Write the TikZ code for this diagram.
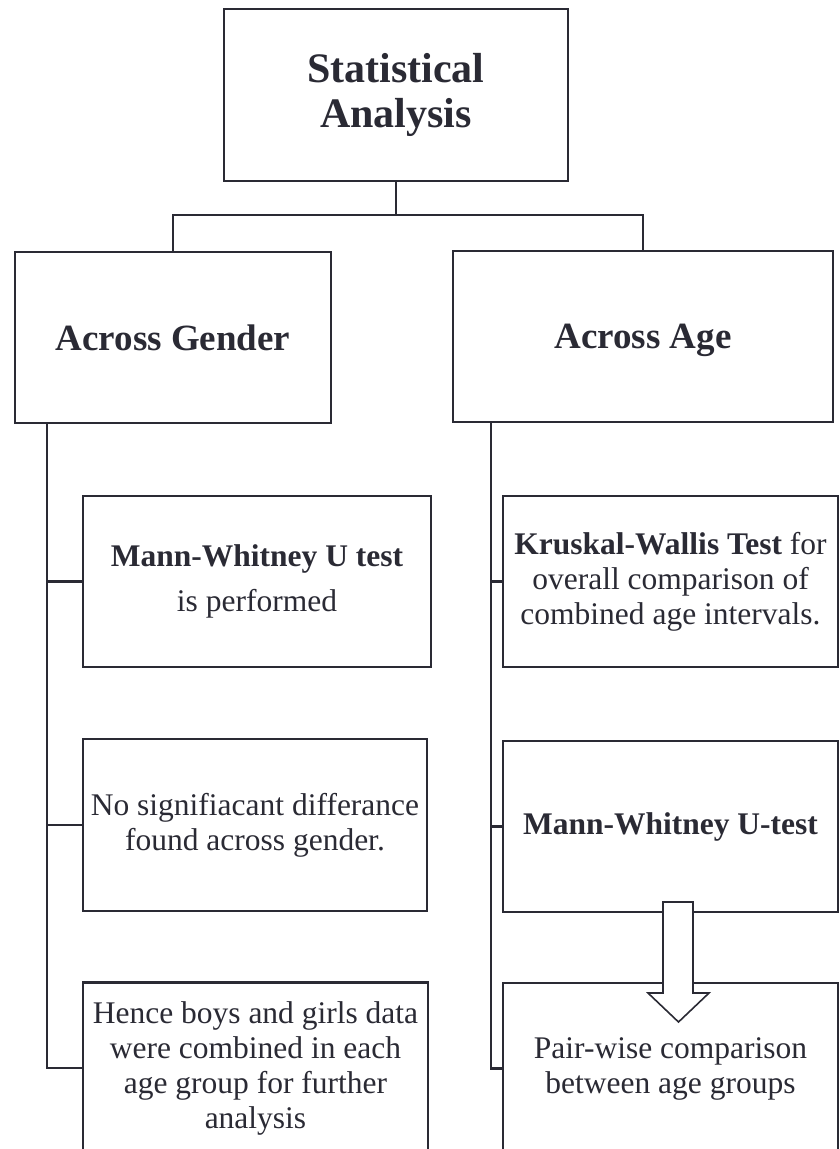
\documentclass[tikz,border=0pt]{standalone}
\usepackage{fontspec}
\setmainfont{Liberation Serif}
\usepackage{tikz}

\definecolor{tinta}{RGB}{42,42,52}
\tikzset{
  caja/.style={draw=tinta, line width=2.2pt, text=tinta, align=center, inner sep=0pt,
    font=\fontsize{31.5}{35}\selectfont},
  linea/.style={draw=tinta, line width=2.2pt},
}

\begin{document}
\begin{tikzpicture}[x=1pt,y=-1pt]
		\path[use as bounding box] (0,0) rectangle (840,1149);
		\clip (0,0) rectangle (840,1149);

		%Nodos
		\node [caja, minimum width=344pt, minimum height=172pt, font=\bfseries\fontsize{42}{45}\selectfont] (stat) at (396,95) {Statistical\\Analysis};
		\node [caja, minimum width=316pt, minimum height=171pt, font=\bfseries\fontsize{37}{40}\selectfont] (gender) at (173,337.5) {Across Gender};
		\node [caja, minimum width=380pt, minimum height=171pt, text depth=0pt, font=\bfseries\fontsize{37}{40}\selectfont] (age) at (643,336.5) {Across Age};

		\node [caja, minimum width=348pt, minimum height=171pt] (gen1) at (257,581.5) {{\bfseries Mann-Whitney U test}\\[10pt]is performed};
		\node [caja, minimum width=344pt, minimum height=172pt] (gen2) at (255,825) {No signifiacant differance\\found across gender.};
		\node [caja, minimum width=345pt, minimum height=171pt] (gen3) at (255.5,1068) {Hence boys and girls data\\were combined in each\\age group for further\\analysis};

		\node [caja, minimum width=335pt, minimum height=171pt] (age1) at (670.5,581.5) {{\bfseries Kruskal-Wallis Test} for\\overall comparison of\\combined age intervals.};
		\node [caja, minimum width=335pt, minimum height=171pt] (age2) at (670.5,826.5) {\bfseries Mann-Whitney U-test};
		\node [caja, minimum width=335pt, minimum height=171pt] (age3) at (670.5,1068.5) {Pair-wise comparison\\between age groups};

		\coordinate (troncoG) at (47,423);
		\coordinate (troncoA) at (491,422);
		\coordinate (flecha) at (663,902);

		%Arcos
		\draw[-, linea] (stat.south)--++(0,33) -| (gender.north);
		\draw[-, linea] (stat.south)--++(0,33) -| (age.north);
		\draw[-, linea] (troncoG) |- (gen3.west);
		\draw[-, linea] (troncoG |- gen1.west)--(gen1.west);
		\draw[-, linea] (troncoG |- gen2.west)--(gen2.west);
		\draw[-, linea] (troncoA) |- (age3.west);
		\draw[-, linea] (troncoA |- age1.west)--(age1.west);
		\draw[-, linea] (troncoA |- age2.west)--(age2.west);

		%Flecha
		\draw[linea, line width=1.6pt, fill=white] (flecha)--++(30,0)--++(0,91)--++(16,0)--++(-30.5,29)--++(-30.5,-29)--++(15,0)--cycle;
\end{tikzpicture}
\end{document}
